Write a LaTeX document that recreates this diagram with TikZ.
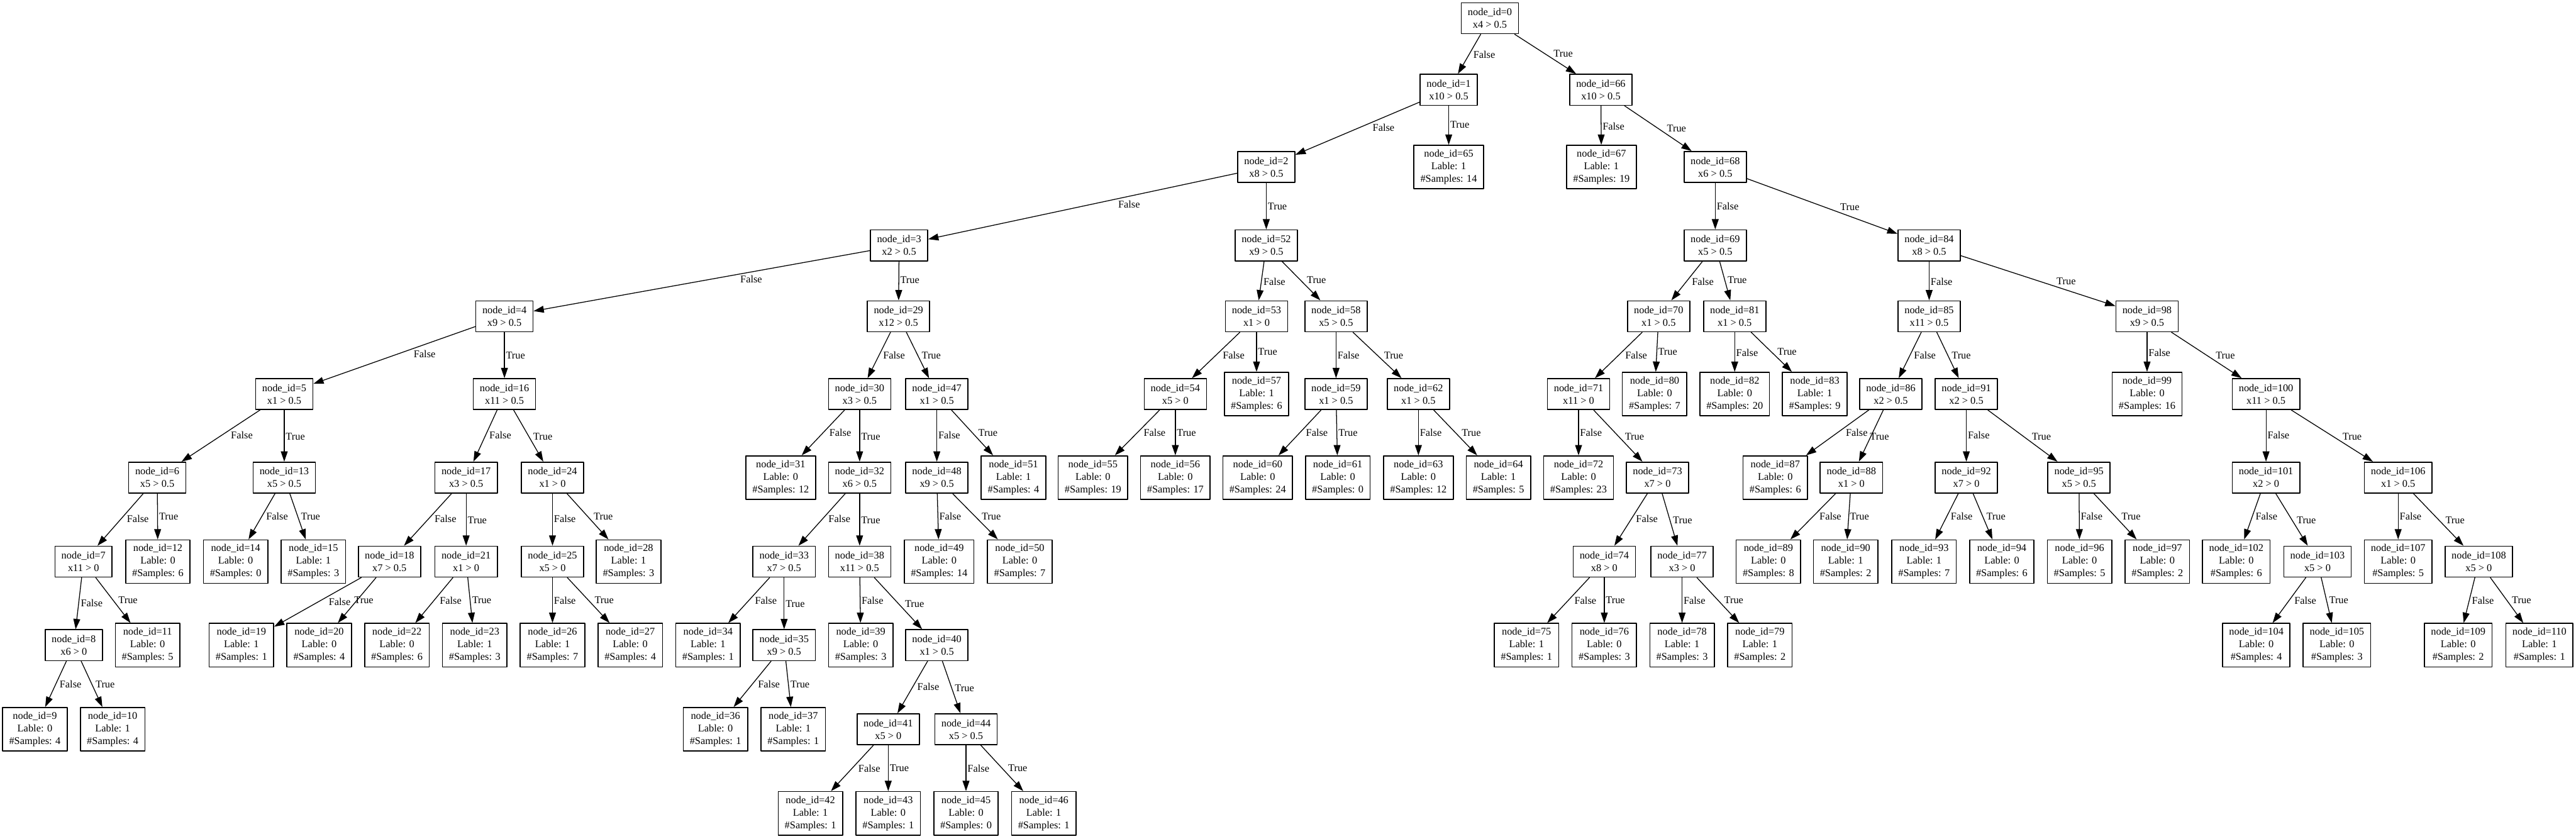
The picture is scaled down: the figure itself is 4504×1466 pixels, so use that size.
\documentclass[tikz,border=0pt]{standalone}
\usepackage{fontspec}
\setmainfont{Liberation Serif}
\usetikzlibrary{arrows.meta}

\tikzset{
    split/.style={draw,line width=0.9pt,inner xsep=5.7pt,inner ysep=2pt,minimum height=27pt,align=center,font=\fontsize{9}{11}\selectfont},
    leaf/.style={split,minimum height=38pt},
    flab/.style={pos=0.39,anchor=north west,inner sep=1pt,font=\fontsize{9}{11}\selectfont},
    tlab/.style={pos=0.61,anchor=south west,inner sep=1pt,font=\fontsize{9}{11}\selectfont}
}

\begin{document}
\begin{tikzpicture}[line cap=round,line join=round,>={Triangle[length=9pt,width=6pt]},x=0.5pt,y=-0.5pt]
    \path[use as bounding box,fill=white] (0,0) rectangle (4504,1466);
    \foreach \i/\x/\y/\t in {0/2605/32/x4 > 0.5, 1/2533/157/x10 > 0.5, 66/2799/157/x10 > 0.5,
        2/2214/292/x8 > 0.5, 68/2999/292/x6 > 0.5,
        3/1572/429/x2 > 0.5, 52/2214/429/x9 > 0.5, 69/2999/429/x5 > 0.5, 84/3373/429/x8 > 0.5,
        4/882/553/x9 > 0.5, 29/1571/553/x12 > 0.5, 53/2197/553/x1 > 0, 58/2336/553/x5 > 0.5,
        70/2900/553/x1 > 0.5, 81/3033/553/x1 > 0.5, 85/3373/553/x11 > 0.5, 98/3754/553/x9 > 0.5,
        5/497/689/x1 > 0.5, 16/882/689/x11 > 0.5, 30/1503/689/x3 > 0.5, 47/1638/689/x1 > 0.5,
        54/2055/689/x5 > 0, 59/2336/689/x1 > 0.5, 62/2480/689/x1 > 0.5, 71/2760/689/x11 > 0,
        86/3306/689/x2 > 0.5, 91/3438/689/x2 > 0.5, 100/3962/689/x11 > 0.5,
        6/275/835/x5 > 0.5, 13/497/835/x5 > 0.5, 17/815/835/x3 > 0.5, 24/966/835/x1 > 0,
        32/1503/835/x6 > 0.5, 48/1638/835/x9 > 0.5, 73/2898/835/x7 > 0, 88/3237/835/x1 > 0,
        92/3438/835/x7 > 0, 95/3635/835/x5 > 0.5, 101/3962/835/x2 > 0, 106/4193/835/x1 > 0.5,
        7/146/982/x11 > 0, 18/681/982/x7 > 0.5, 21/815/982/x1 > 0, 25/966/982/x5 > 0,
        33/1371/982/x7 > 0.5, 38/1503/982/x11 > 0.5, 74/2805/982/x8 > 0, 77/2941/982/x3 > 0,
        103/4052/982/x5 > 0, 108/4334/982/x5 > 0,
        8/129/1128/x6 > 0, 35/1371/1128/x9 > 0.5, 40/1638/1128/x1 > 0.5,
        41/1553/1275/x5 > 0, 44/1689/1275/x5 > 0.5}
    \node[split] (n\i) at (\x,\y) {node\_id=\i\\\t};
    \foreach \i/\x/\y/\l/\s in {65/2533/292/1/14, 67/2800/292/1/19,
        57/2197/689/1/6, 80/2893/689/0/7, 82/3033/689/0/20, 83/3173/689/1/9, 99/3754/689/0/16,
        31/1365/835/0/12, 51/1772/835/1/4, 55/1911/835/0/19, 56/2055/835/0/17, 60/2199/835/0/24,
        61/2339/835/0/0, 63/2480/835/0/12, 64/2620/835/1/5, 72/2760/835/0/23, 87/3104/835/0/6,
        12/276/982/0/6, 14/412/982/0/0, 15/548/982/1/3, 28/1099/982/1/3, 49/1642/982/0/14,
        50/1783/982/0/7, 89/3092/982/0/8, 90/3227/982/1/2, 93/3364/982/1/7, 94/3500/982/0/6,
        96/3636/982/0/5, 97/3772/982/0/2, 102/3910/982/0/6, 107/4193/982/0/5,
        11/258/1128/0/5, 19/422/1128/1/1, 20/558/1128/0/4, 22/694/1128/0/6, 23/830/1128/1/3,
        26/966/1128/1/7, 27/1102/1128/0/4, 34/1238/1128/1/1, 39/1505/1128/0/3, 75/2669/1128/1/1,
        76/2805/1128/0/3, 78/2941/1128/1/3, 79/3077/1128/1/2, 104/3945/1128/0/4, 105/4086/1128/0/3,
        109/4298/1128/0/2, 110/4440/1128/1/1,
        9/61/1275/0/4, 10/197/1275/1/4, 36/1251/1275/0/1, 37/1387/1275/1/1,
        42/1417/1422/1/1, 43/1553/1422/0/1, 45/1689/1422/0/0, 46/1825/1422/1/1}
    \node[leaf] (n\i) at (\x,\y) {node\_id=\i\\Lable: \l\\\#Samples: \s};
    \foreach \a/\b in {0/1, 1/2, 2/3, 3/4, 4/5, 5/6, 6/7, 7/8, 8/9, 13/14, 16/17, 17/18, 18/19,
        21/22, 24/25, 25/26, 29/30, 30/31, 32/33, 33/34, 35/36, 38/39, 40/41, 41/42, 44/45,
        47/48, 48/49, 52/53, 53/54, 54/55, 58/59, 59/60, 62/63, 66/67, 68/69, 69/70, 70/71,
        71/72, 73/74, 74/75, 77/78, 81/82, 84/85, 85/86, 86/87, 88/89, 91/92, 92/93, 95/96,
        98/99, 100/101, 101/102, 103/104, 106/107, 108/109}
    \draw[->,line width=0.7pt] (n\a) -- node[flab] {False} (n\b);
    \foreach \a/\b in {0/66, 1/65, 2/52, 3/29, 4/16, 5/13, 6/12, 7/11, 8/10, 13/15, 16/24,
        17/21, 18/20, 21/23, 24/28, 25/27, 29/47, 30/32, 32/38, 33/35, 35/37, 38/40, 40/44,
        41/43, 44/46, 47/51, 48/50, 52/58, 53/57, 54/56, 58/62, 59/61, 62/64, 66/68, 68/84,
        69/81, 70/80, 71/73, 73/77, 74/76, 77/79, 81/83, 84/98, 85/91, 86/88, 88/90, 91/95,
        92/94, 95/97, 98/100, 100/106, 101/103, 103/105, 106/108, 108/110}
    \draw[->,line width=0.7pt] (n\a) -- node[tlab] {True} (n\b);
\end{tikzpicture}
\end{document}
